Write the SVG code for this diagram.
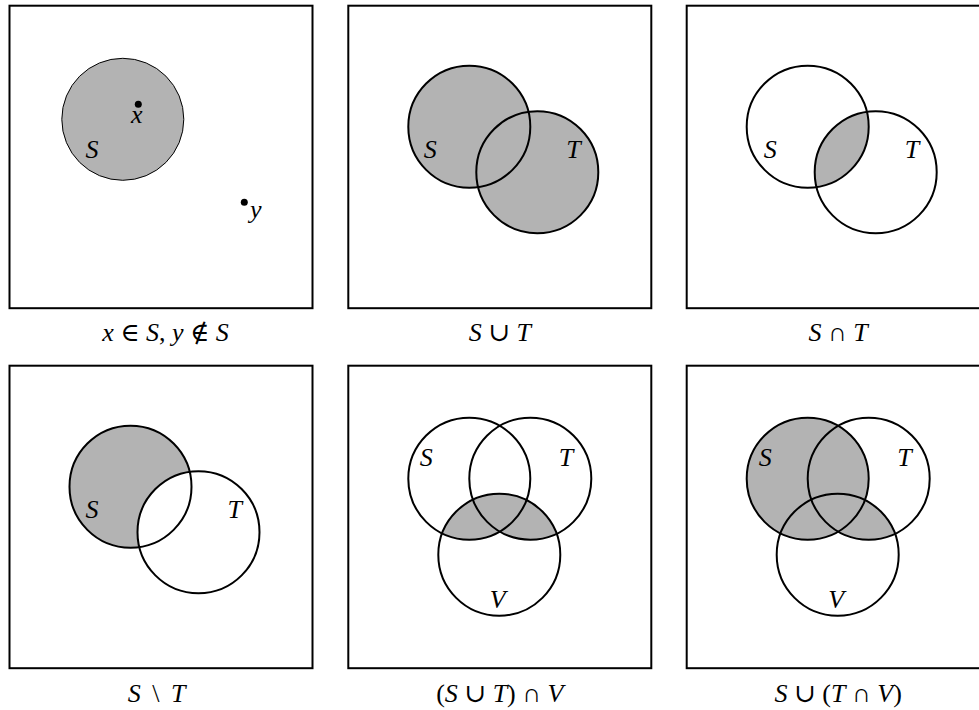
<svg xmlns="http://www.w3.org/2000/svg" width="979" height="710" viewBox="0 0 979 710">
<style>
.box{fill:#fff;stroke:#000;stroke-width:2}
.ring{fill:none;stroke:#000;stroke-width:2}
.sh{fill:#b3b3b3;stroke:none}
.wh{fill:#fff;stroke:none}
.lbl{font-family:"Liberation Serif","DejaVu Serif",serif;font-size:26px;font-style:italic;fill:#000}
.cap{font-family:"Liberation Serif","DejaVu Serif",serif;font-size:26px;fill:#000;text-anchor:middle}
.it{font-style:italic}
</style>
<defs>
<clipPath id="clipS2"><circle cx="121" cy="121" r="61"/></clipPath>
<clipPath id="clipV3"><circle cx="151" cy="189" r="61"/></clipPath>
<clipPath id="clipT3"><circle cx="182" cy="113" r="61"/></clipPath>
</defs>

<g id="panel1" transform="translate(9.5,5.7)">
<rect class="box" x="0" y="0" width="303" height="302.5"/>
<circle cx="113.3" cy="113.6" r="61" fill="#b3b3b3" stroke="#000" stroke-width="1"/>
<circle cx="128.8" cy="98.6" r="3.5" fill="#000"/>
<text class="lbl" x="127.3" y="117" text-anchor="middle">x</text>
<text class="lbl" x="76" y="152.5">S</text>
<circle cx="234.8" cy="196.6" r="3.5" fill="#000"/>
<text class="lbl" x="240.5" y="212">y</text>
<text class="cap" x="156" y="335.8"><tspan class="it">x</tspan> ∈ <tspan class="it">S</tspan>, <tspan class="it">y</tspan> ∉ <tspan class="it">S</tspan></text>
</g>

<g id="panel2" transform="translate(348.3,5.7)">
<rect class="box" x="0" y="0" width="303" height="302.5"/>
<circle class="sh" cx="121" cy="121" r="61"/>
<circle class="sh" cx="189" cy="166.5" r="61"/>
<circle class="ring" cx="121" cy="121" r="61"/>
<circle class="ring" cx="189" cy="166.5" r="61"/>
<text class="lbl" x="75.5" y="152">S</text>
<text class="lbl" x="218" y="152">T</text>
<text class="cap" x="151.5" y="335.8"><tspan class="it">S</tspan> ∪ <tspan class="it">T</tspan></text>
</g>

<g id="panel3" transform="translate(686.7,5.7)">
<rect class="box" x="0" y="0" width="303" height="302.5"/>
<circle class="sh" cx="189" cy="166.5" r="61" clip-path="url(#clipS2)"/>
<circle class="ring" cx="121" cy="121" r="61"/>
<circle class="ring" cx="189" cy="166.5" r="61"/>
<text class="lbl" x="77" y="152">S</text>
<text class="lbl" x="218" y="152">T</text>
<text class="cap" x="151.5" y="335.8"><tspan class="it">S</tspan> ∩ <tspan class="it">T</tspan></text>
</g>

<g id="panel4" transform="translate(9.5,365.7)">
<rect class="box" x="0" y="0" width="303" height="302.5"/>
<circle class="sh" cx="121" cy="121" r="61"/>
<circle class="wh" cx="189" cy="166.5" r="61"/>
<circle class="ring" cx="121" cy="121" r="61"/>
<circle class="ring" cx="189" cy="166.5" r="61"/>
<text class="lbl" x="76" y="152">S</text>
<text class="lbl" x="218" y="152">T</text>
<text class="cap" x="147" y="336.5"><tspan class="it">S</tspan><tspan dx="5"> \ </tspan><tspan class="it" dx="5">T</tspan></text>
</g>

<g id="panel5" transform="translate(348.3,365.7)">
<rect class="box" x="0" y="0" width="303" height="302.5"/>
<g clip-path="url(#clipV3)">
<circle class="sh" cx="121" cy="113" r="61"/>
<circle class="sh" cx="182" cy="113" r="61"/>
</g>
<circle class="ring" cx="121" cy="113" r="61"/>
<circle class="ring" cx="182" cy="113" r="61"/>
<circle class="ring" cx="151" cy="189" r="61"/>
<text class="lbl" x="71.5" y="100.5">S</text>
<text class="lbl" x="210.5" y="100.5">T</text>
<text class="lbl" x="141.5" y="242.5">V</text>
<text class="cap" x="151.5" y="336.5">(<tspan class="it">S</tspan> ∪ <tspan class="it">T</tspan>) ∩ <tspan class="it">V</tspan></text>
</g>

<g id="panel6" transform="translate(686.7,365.7)">
<rect class="box" x="0" y="0" width="303" height="302.5"/>
<circle class="sh" cx="121" cy="113" r="61"/>
<circle class="sh" cx="151" cy="189" r="61" clip-path="url(#clipT3)"/>
<circle class="ring" cx="121" cy="113" r="61"/>
<circle class="ring" cx="182" cy="113" r="61"/>
<circle class="ring" cx="151" cy="189" r="61"/>
<text class="lbl" x="72" y="100.5">S</text>
<text class="lbl" x="210.5" y="100.5">T</text>
<text class="lbl" x="141.5" y="242.5">V</text>
<text class="cap" x="151.5" y="336.5"><tspan class="it">S</tspan> ∪ (<tspan class="it">T</tspan> ∩ <tspan class="it">V</tspan>)</text>
</g>

<g id="connectors"></g>
</svg>
